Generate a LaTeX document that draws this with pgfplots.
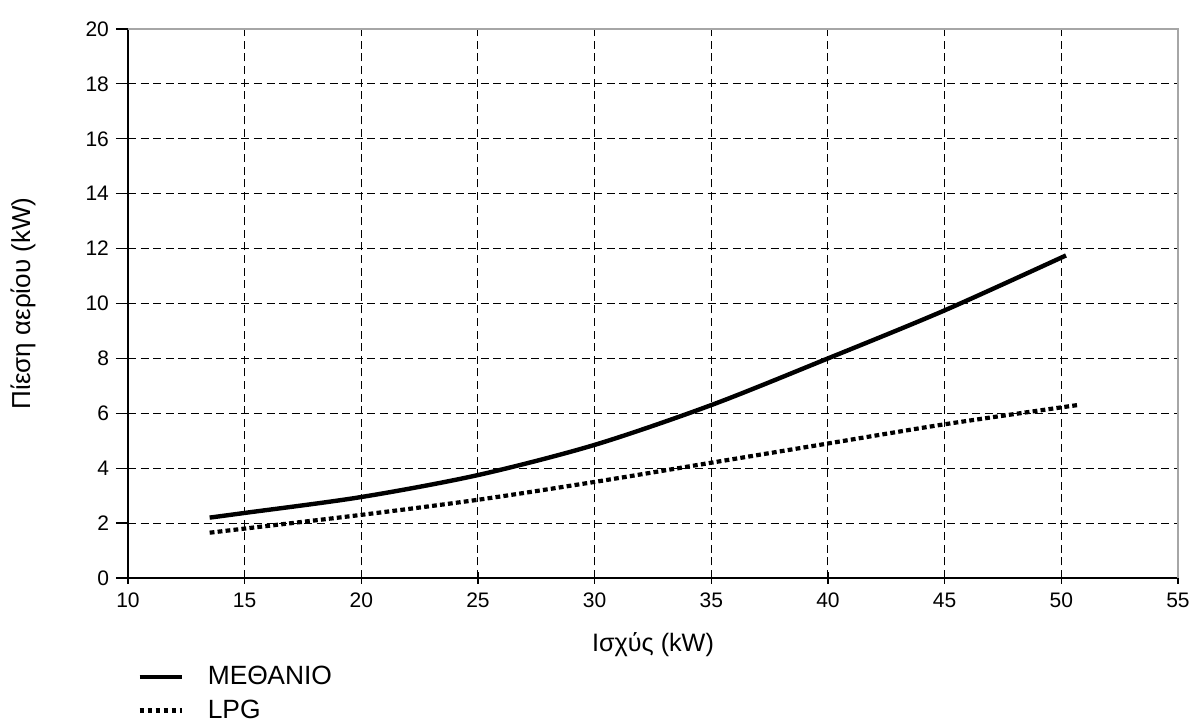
\documentclass[border=0pt]{standalone}
\usepackage{pgfplots}
\pgfplotsset{compat=1.18}
\usepackage{fontspec}
\setmainfont{Liberation Sans}
\begin{document}
\begin{tikzpicture}
\begin{axis}[
  at={(0,0)}, anchor=south west,
  scale only axis, width=525pt, height=274.5pt,
  xmin=10, xmax=55, ymin=0, ymax=20,
  xtick={10,15,...,55}, ytick={0,2,...,20},
  axis x line=bottom, axis y line=left,
  axis line style={-, black, line width=0.6pt},
  xtick align=center, ytick align=outside,
  major tick length=6pt,
  tick style={black, line width=0.6pt},
  grid=major,
  major grid style={black, line width=0.5pt, dash pattern=on 4pt off 2.3pt},
  tick label style={font=\fontsize{10.5}{12}\selectfont},
  /pgf/number format/assume math mode=true,
  xticklabel style={yshift=-1pt},
  xlabel={Ισχύς (kW)},
  ylabel={Πίεση αερίου (kW)},
  xlabel style={at={(axis description cs:0.5,0)}, anchor=center, yshift=-33.5pt, font=\fontsize{12.6}{14}\selectfont},
  ylabel style={at={([xshift=-52.5pt]axis description cs:0,0.5)}, anchor=center, font=\fontsize{13}{15}\selectfont},
  legend style={at={(axis description cs:0,0)}, anchor=north west, xshift=4.5pt, yshift=-42pt,
    draw=none, fill=none, font=\fontsize{13.2}{15}\selectfont, inner sep=0pt, row sep=2pt},
  legend cell align=left,
  legend image code/.code={\draw[#1] (0pt,0pt) -- (21pt,0pt); \path (31pt,0pt);},
  clip=false,
]
\addplot[black, line width=2.2pt, smooth] coordinates {
(13.5,2.2) (15,2.37) (20,2.95) (25,3.75) (30,4.85) (35,6.3) (40,8.0) (45,9.75) (50.2,11.75)};
\addlegendentry{ΜΕΘΑΝΙΟ}
\addplot[black, line width=2.1pt, dash pattern=on 2.4pt off 1.6pt, smooth] coordinates {
(13.5,1.65) (15,1.8) (20,2.3) (25,2.85) (30,3.5) (35,4.2) (40,4.9) (45,5.6) (50.7,6.3)};
\addlegendentry{LPG}
\draw[gray!70, line width=0.8pt] (rel axis cs:0,1) -- (rel axis cs:1,1) -- (rel axis cs:1,0);
\end{axis}
\pgfresetboundingbox
\path (-64pt,-72pt) rectangle (531pt,289pt);
\end{tikzpicture}
\end{document}
